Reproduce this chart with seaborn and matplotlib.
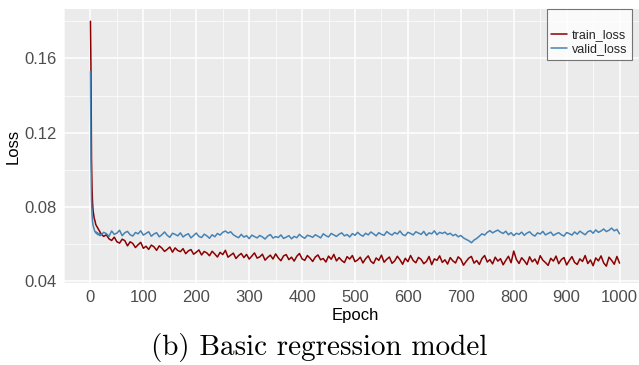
import pandas as pd
import matplotlib.pyplot as plt
import seaborn as sns

# epochs: every epoch at the start, then every 5th
epochs = list(range(0, 20)) + list(range(20, 1001, 5))

train_loss = [
    0.180, 0.153, 0.105, 0.090, 0.082, 0.078, 0.076, 0.074, 0.073, 0.072,
    0.0705, 0.0700, 0.0695, 0.0690, 0.0685, 0.0680, 0.0675, 0.0670, 0.0665, 0.0660,
    # 20-65
    0.0655, 0.0641, 0.0650, 0.0628, 0.0619, 0.0637, 0.0612, 0.0605, 0.0626, 0.0618,
    0.0590, 0.0612, 0.0603, 0.0581, 0.0596, 0.0609, 0.0577, 0.0588, 0.0571, 0.0594,
    0.0585, 0.0566, 0.0590, 0.0578, 0.0560, 0.0571, 0.0584, 0.0556, 0.0579, 0.0565,
    0.0559, 0.0575, 0.0548, 0.0563, 0.0570, 0.0545, 0.0556, 0.0568, 0.0541, 0.0560,
    0.0552, 0.0537, 0.0561, 0.0546, 0.0530, 0.0555, 0.0543, 0.0566, 0.0529, 0.0540,
    0.0551, 0.0522, 0.0538, 0.0549, 0.0527, 0.0544, 0.0519, 0.0535, 0.0552, 0.0524,
    0.0531, 0.0545, 0.0513, 0.0528, 0.0540, 0.0519, 0.0547, 0.0525, 0.0510, 0.0536,
    0.0543, 0.0516, 0.0529, 0.0508, 0.0534, 0.0549, 0.0520, 0.0512, 0.0538, 0.0524,
    0.0506, 0.0530, 0.0541, 0.0515, 0.0522, 0.0503, 0.0535, 0.0518, 0.0544, 0.0509,
    0.0527, 0.0511, 0.0500, 0.0532, 0.0519, 0.0538, 0.0505, 0.0514, 0.0529, 0.0498,
    0.0521, 0.0536, 0.0507, 0.0495, 0.0525, 0.0512, 0.0540, 0.0502, 0.0518, 0.0530,
    0.0496, 0.0509, 0.0534, 0.0515, 0.0491, 0.0523, 0.0505, 0.0538, 0.0511, 0.0499,
    0.0528, 0.0517, 0.0494, 0.0506, 0.0533, 0.0489, 0.0520, 0.0512, 0.0536, 0.0501,
    0.0515, 0.0492, 0.0527, 0.0509, 0.0498, 0.0531, 0.0518, 0.0486, 0.0506, 0.0524,
    0.0533, 0.0497, 0.0511, 0.0490, 0.0522, 0.0538, 0.0503, 0.0516, 0.0493, 0.0529,
    0.0508, 0.0521, 0.0488, 0.0512, 0.0534, 0.0499, 0.0562, 0.0517, 0.0495, 0.0526,
    0.0510, 0.0489, 0.0531, 0.0504, 0.0519, 0.0492, 0.0537, 0.0513, 0.0500, 0.0485,
    0.0523, 0.0508, 0.0535, 0.0494, 0.0516, 0.0527, 0.0487, 0.0511, 0.0532, 0.0501,
    0.0490, 0.0520, 0.0506, 0.0538, 0.0495, 0.0514, 0.0483, 0.0525, 0.0509, 0.0536,
    0.0498, 0.0481, 0.0529, 0.0512, 0.0491, 0.0533, 0.0497,
]

valid_loss = [
    0.153, 0.105, 0.084, 0.076, 0.072, 0.070, 0.069, 0.068, 0.067, 0.0665,
    0.0660, 0.0665, 0.0655, 0.0660, 0.0650, 0.0655, 0.0650, 0.0660, 0.0645, 0.0650,
    # 20-65
    0.0648, 0.0663, 0.0656, 0.0641, 0.0670, 0.0652, 0.0659, 0.0674, 0.0645, 0.0661,
    0.0668, 0.0650, 0.0643, 0.0662, 0.0655, 0.0671, 0.0648, 0.0657, 0.0666, 0.0642,
    0.0654, 0.0661, 0.0639, 0.0650, 0.0665, 0.0647, 0.0636, 0.0658, 0.0652, 0.0644,
    0.0660, 0.0638, 0.0649, 0.0655, 0.0633, 0.0646, 0.0659, 0.0641, 0.0635, 0.0653,
    0.0644, 0.0631, 0.0650, 0.0639, 0.0657, 0.0648, 0.0663, 0.0670, 0.0659, 0.0666,
    0.0650, 0.0641, 0.0634, 0.0652, 0.0637, 0.0645, 0.0629, 0.0648, 0.0640, 0.0633,
    0.0646, 0.0638, 0.0627, 0.0643, 0.0651, 0.0632, 0.0640, 0.0635, 0.0649, 0.0630,
    0.0637, 0.0645, 0.0628, 0.0641, 0.0634, 0.0652, 0.0639, 0.0631, 0.0647, 0.0643,
    0.0636, 0.0650, 0.0642, 0.0633, 0.0655, 0.0645, 0.0638, 0.0657, 0.0649, 0.0641,
    0.0653, 0.0660, 0.0644, 0.0651, 0.0638, 0.0656, 0.0647, 0.0663, 0.0650, 0.0642,
    0.0658, 0.0649, 0.0665, 0.0655, 0.0644, 0.0661, 0.0652, 0.0647, 0.0667, 0.0656,
    0.0648, 0.0662, 0.0654, 0.0670, 0.0651, 0.0645, 0.0663, 0.0657, 0.0649, 0.0666,
    0.0659, 0.0652, 0.0668, 0.0646, 0.0660, 0.0655, 0.0671, 0.0650, 0.0663, 0.0657,
    0.0664, 0.0651, 0.0658, 0.0645, 0.0652, 0.0639, 0.0646, 0.0633, 0.0625, 0.0618,
    0.0607, 0.0621, 0.0630, 0.0642, 0.0655, 0.0648, 0.0663, 0.0672, 0.0660, 0.0668,
    0.0675, 0.0664, 0.0657, 0.0669, 0.0650, 0.0661, 0.0645, 0.0658, 0.0652, 0.0664,
    0.0647, 0.0659, 0.0666, 0.0651, 0.0643, 0.0660, 0.0654, 0.0668, 0.0649, 0.0657,
    0.0664, 0.0646, 0.0655, 0.0661, 0.0650, 0.0643, 0.0662, 0.0656, 0.0648, 0.0665,
    0.0653, 0.0669, 0.0659, 0.0650, 0.0666, 0.0672, 0.0658, 0.0676, 0.0663, 0.0670,
    0.0681, 0.0667, 0.0674, 0.0686, 0.0671, 0.0679, 0.0655,
]

x_ticks = [0, 100, 200, 300, 400, 500, 600, 700, 800, 900, 1000]
y_ticks = [0.04, 0.08, 0.12, 0.16]
series_names = ['train_loss', 'valid_loss']
series_colors = ['#8B0000', '#4682B4']

df = pd.DataFrame({
    'Epoch': epochs * 2,
    'Loss': train_loss + valid_loss,
    'series': [series_names[0]] * len(epochs) + [series_names[1]] * len(epochs),
})

sns.set_theme(style="darkgrid", rc={
    'axes.facecolor': '#EBEBEB',
    'grid.color': 'white',
})
plt.rcParams['font.family'] = ['Liberation Sans', 'DejaVu Sans']

fig = plt.figure(figsize=(6.39, 3.65), dpi=100)
ax = fig.add_axes([64 / 639, 1 - 283 / 365, (646 - 64) / 639, (283 - 9) / 365])

sns.lineplot(data=df, x='Epoch', y='Loss', hue='series',
             palette=dict(zip(series_names, series_colors)),
             linewidth=1.1, ax=ax, legend=False)

ax.set_xlim(-50, 1050)
ax.set_ylim(0.039, 0.1866)
ax.set_xticks(x_ticks)
ax.set_yticks(y_ticks)
ax.set_xticks([t + 50 for t in [-100] + x_ticks], minor=True)
ax.set_yticks([0.06, 0.10, 0.14, 0.18], minor=True)
ax.set_yticklabels([f'{v:.2f}' for v in y_ticks])
ax.grid(which='major', color='white', linewidth=1.1)
ax.grid(which='minor', color='white', linewidth=0.5)
ax.tick_params(which='major', length=3, width=0.8, color='#333333',
               labelsize=12, labelcolor='#4D4D4D', pad=2)
ax.tick_params(which='minor', length=0)
for s in ax.spines.values():
    s.set_visible(False)

ax.set_xlabel('Epoch', fontsize=12, color='black', labelpad=2)
ax.set_ylabel('Loss', fontsize=12, color='black', labelpad=3)

handles = [plt.Line2D([], [], color=c, linewidth=1.1) for c in series_colors]
leg = fig.legend(handles, series_names, loc='upper right',
                 bbox_to_anchor=(632 / 639, 1 - 9 / 365), borderaxespad=0,
                 title=' ', fontsize=9, title_fontsize=11, frameon=True,
                 fancybox=False, handlelength=1.3, handletextpad=0.4,
                 borderpad=0.35, labelspacing=0.15)
leg.get_frame().set_edgecolor('#555555')
leg.get_frame().set_facecolor('white')
leg.get_frame().set_linewidth(0.8)

fig.text(0.5, 1 - 347 / 365, '(b) Basic regression model', family='cmr10',
         fontsize=21, ha='center', va='center', color='black')

fig.savefig('out.png', dpi=100)
